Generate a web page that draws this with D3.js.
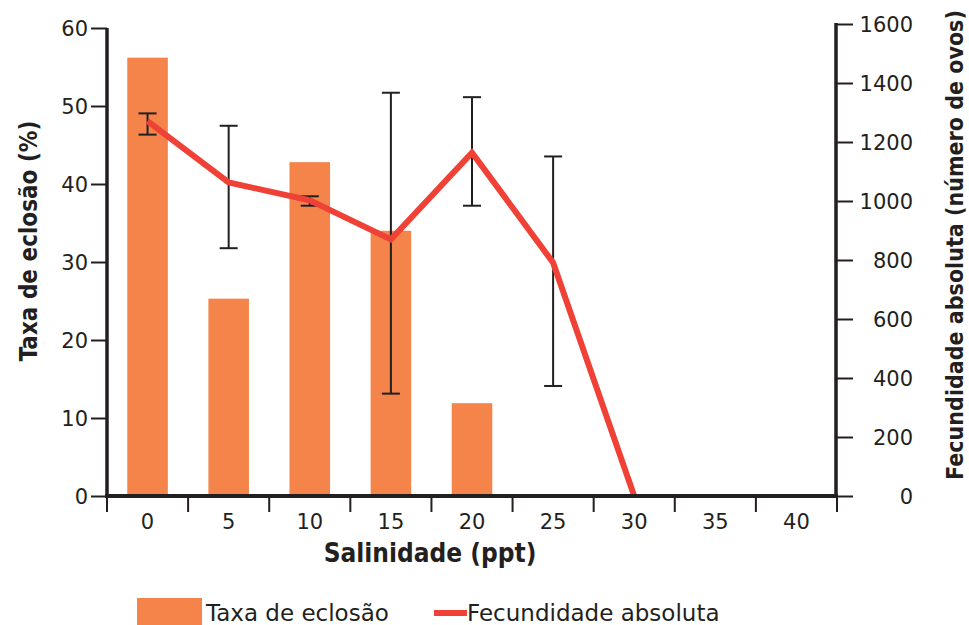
<!DOCTYPE html>
<html lang="pt">
<head>
<meta charset="UTF-8">
<script src="https://d3js.org/d3.v7.min.js"></script>
<style>
  body { margin: 0; background: #fff; }
  svg { display: block; font-family: "DejaVu Sans", sans-serif; }
</style>
</head>
<body>
<script>
// categories (salinity, ppt)
const salinity = ["0", "5", "10", "15", "20", "25", "30", "35", "40"];
// hatching rate (%) - bars
const hatchRate = [56.2, 25.3, 42.8, 34.0, 11.9, null, null, null, null];
// absolute fecundity (number of eggs) - line
const fecundity = [1271, 1063, 1002, 870, 1164, 791, 0, null, null];
const fecLow = [1225, 840, 984, 347, 984, 373, null, null, null];
const fecHigh = [1297, 1255, 1016, 1367, 1352, 1151, null, null, null];
// tick labels
const leftTicks = [0, 10, 20, 30, 40, 50, 60];
const rightTicks = [0, 200, 400, 600, 800, 1000, 1200, 1400, 1600];

const w = 969, h = 625;
const ink = "#231f20";
const barColor = "#f4844a";
const lineColor = "#ef4136";
const titleFont = "DejaVu Sans Condensed, DejaVu Sans, sans-serif";

const svg = d3.select("body").append("svg")
  .attr("width", w).attr("height", h);

const x = d3.scaleBand().domain(salinity).range([107, 837]).padding(0);
const yL = d3.scaleLinear().domain([0, 60]).range([496, 28]);
const yR = d3.scaleLinear().domain([0, 1600]).range([496, 24]);

const rows = salinity.map((s, i) => ({
  s, rate: hatchRate[i], fec: fecundity[i], lo: fecLow[i], hi: fecHigh[i]
}));

// bars
const bw = x.bandwidth() * 0.5;
svg.append("g").selectAll("rect")
  .data(rows.filter(d => d.rate != null))
  .join("rect")
  .attr("x", d => x(d.s) + x.bandwidth() / 2 - bw / 2)
  .attr("width", bw)
  .attr("y", d => yL(d.rate))
  .attr("height", d => yL(0) - yL(d.rate))
  .attr("fill", barColor);

// error bars
const cx = d => x(d.s) + x.bandwidth() / 2;
const eb = svg.append("g").attr("stroke", ink).attr("stroke-width", 2);
const withErr = rows.filter(d => d.lo != null);
eb.selectAll("line.v").data(withErr).join("line").attr("class", "v")
  .attr("x1", cx).attr("x2", cx)
  .attr("y1", d => yR(d.lo)).attr("y2", d => yR(d.hi));
eb.selectAll("line.t").data(withErr).join("line").attr("class", "t")
  .attr("x1", d => cx(d) - 9).attr("x2", d => cx(d) + 9)
  .attr("y1", d => yR(d.hi)).attr("y2", d => yR(d.hi));
eb.selectAll("line.b").data(withErr).join("line").attr("class", "b")
  .attr("x1", d => cx(d) - 9).attr("x2", d => cx(d) + 9)
  .attr("y1", d => yR(d.lo)).attr("y2", d => yR(d.lo));

// fecundity line
const line = d3.line().x(cx).y(d => yR(d.fec));
svg.append("path")
  .datum(rows.filter(d => d.fec != null))
  .attr("d", line)
  .attr("fill", "none")
  .attr("stroke", lineColor)
  .attr("stroke-width", 6)
  .attr("stroke-linejoin", "miter");

// axes
function styleAxis(g) {
  g.select(".domain").remove();
  g.selectAll(".tick line").attr("stroke", ink).attr("stroke-width", 2);
  g.selectAll(".tick text").attr("fill", ink).style("font-size", "21px")
    .style("font-family", "DejaVu Sans, sans-serif");
}

const gl = svg.append("g").attr("transform", "translate(107,0)")
  .call(d3.axisLeft(yL).tickValues(leftTicks).tickSize(16).tickPadding(3))
  .call(styleAxis);
gl.selectAll(".tick text").attr("dy", "0.36em");

const gr = svg.append("g").attr("transform", "translate(836,0)")
  .call(d3.axisRight(yR).tickValues(rightTicks).tickSize(17).tickFormat(d3.format("d")))
  .call(styleAxis);
gr.selectAll(".tick text").attr("text-anchor", "end").attr("x", 77).attr("dy", "0.36em");

// x labels at band centres
const gx = svg.append("g").attr("transform", "translate(0,496)")
  .call(d3.axisBottom(x).tickSize(0).tickPadding(18))
  .call(styleAxis);

// x boundary ticks
const edges = salinity.map(s => x(s)).concat([x.range()[1]]);
svg.append("g").selectAll("line").data(edges).join("line")
  .attr("x1", d => d).attr("x2", d => d)
  .attr("y1", 496).attr("y2", 512)
  .attr("stroke", ink).attr("stroke-width", 2);

// axis lines
svg.append("line").attr("x1", 107).attr("x2", 107).attr("y1", yL(60)).attr("y2", 497)
  .attr("stroke", ink).attr("stroke-width", 3.5);
svg.append("line").attr("x1", 836).attr("x2", 836).attr("y1", yR(1600) - 1).attr("y2", 497)
  .attr("stroke", ink).attr("stroke-width", 3.5);
svg.append("line").attr("x1", 105).attr("x2", 838).attr("y1", 496).attr("y2", 496)
  .attr("stroke", ink).attr("stroke-width", 4);

// axis titles
svg.append("text")
  .attr("transform", "translate(37,241) rotate(-90)")
  .attr("text-anchor", "middle")
  .style("font-family", titleFont)
  .style("font-weight", "bold").style("font-size", "24px").attr("fill", ink)
  .text("Taxa de eclosão (%)");

svg.append("text")
  .attr("transform", "translate(963,245) rotate(-90)")
  .attr("text-anchor", "middle")
  .style("font-family", titleFont)
  .style("font-weight", "bold").style("font-size", "23px").attr("fill", ink)
  .text("Fecundidade absoluta (número de ovos)");

svg.append("text")
  .attr("x", 430).attr("y", 562)
  .attr("text-anchor", "middle")
  .style("font-family", titleFont)
  .style("font-weight", "bold").style("font-size", "26px").attr("fill", ink)
  .text("Salinidade (ppt)");

// legend
const lg = svg.append("g");
lg.append("rect").attr("x", 137).attr("y", 598).attr("width", 65).attr("height", 32).attr("fill", barColor);
lg.append("text").attr("x", 206).attr("y", 621)
  .style("font-size", "23px").attr("fill", ink).text("Taxa de eclosão");
lg.append("line").attr("x1", 434).attr("x2", 467).attr("y1", 613).attr("y2", 613)
  .attr("stroke", lineColor).attr("stroke-width", 6);
lg.append("text").attr("x", 467).attr("y", 621)
  .style("font-size", "23px").attr("fill", ink).text("Fecundidade absoluta");
</script>
</body>
</html>
